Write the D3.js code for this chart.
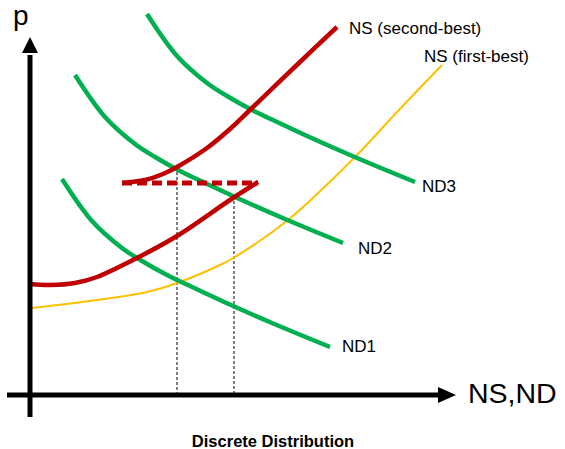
<!DOCTYPE html>
<html>
<head>
<meta charset="utf-8">
<script src="https://cdn.jsdelivr.net/npm/d3@7"></script>
<style>
  html, body { margin: 0; padding: 0; background: #fff; }
  svg { display: block; }
  text { font-family: "Liberation Sans", Arial, sans-serif; }
</style>
</head>
<body>
<div id="chart"></div>
<script>
// ---- data (quantity q, price p in schematic units) ----
const nd1 = [[32,216],[62,174],[92,147],[112,134],[137,120],[162,108],[192,94],[242,72],[300,48]];
const nd2 = [[45,320],[75,278],[105,251],[125,238],[150,224],[175,212],[205,198],[255,176],[313,152]];
const nd3 = [[117,381],[147,339],[177,312],[197,299],[222,285],[247,273],[277,259],[327,237],[385,213]];
const nsSecondLower = [[0,111],[20,110],[45,112],[67,118],[107,137],[147,159],[200,195],[228,213]];
const nsSecondUpper = [[92,212],[115,215],[133,221],[147,228],[177,247],[200,266],[222,287],[270,333],[307,368]];
const nsFirst = [[2,87],[67,95],[117,103],[147,112],[190,130],[205,138],[258,175],[326,239],[367,283],[412,330]];
const jumpSegment = [[92,212],[228,212]];
const dropLines = [[147,228],[204,199]];
const curveLabels = ["ND1","ND2","ND3","NS (second-best)","NS (first-best)"];
const axisLabels = ["p","NS,ND"];
const title = "Discrete Distribution";

const W = 565, H = 449;
const x = d3.scaleLinear().domain([0, 425]).range([30, 455]);
const y = d3.scaleLinear().domain([0, 380]).range([395, 15]);

const svg = d3.select("#chart").append("svg").attr("width", W).attr("height", H);

const line = d3.line().x(d => x(d[0])).y(d => y(d[1])).curve(d3.curveCatmullRom.alpha(0.5));
const straight = d3.line().x(d => x(d[0])).y(d => y(d[1]));

const GREEN = "#00B050", RED = "#C00000", YELLOW = "#FFC000";

// drop lines (dotted)
svg.selectAll(".drop").data(dropLines).enter().append("line")
  .attr("x1", d => x(d[0])).attr("x2", d => x(d[0]))
  .attr("y1", d => y(d[1])).attr("y2", y(0))
  .attr("stroke", "#000").attr("stroke-width", 1).attr("stroke-dasharray", "3,2");

// yellow first-best supply
svg.append("path").attr("d", line(nsFirst)).attr("fill", "none")
  .attr("stroke", YELLOW).attr("stroke-width", 2);

// demand curves
[nd1, nd2, nd3].forEach(c => {
  svg.append("path").attr("d", line(c)).attr("fill", "none")
    .attr("stroke", GREEN).attr("stroke-width", 4.5);
});

// red second-best supply
[nsSecondLower, nsSecondUpper].forEach(c => {
  svg.append("path").attr("d", line(c)).attr("fill", "none")
    .attr("stroke", RED).attr("stroke-width", 4.5);
});
svg.append("path").attr("d", straight(jumpSegment)).attr("fill", "none")
  .attr("stroke", RED).attr("stroke-width", 5).attr("stroke-dasharray", "10,5");

// axes
const axisG = svg.append("g");
axisG.append("line").attr("x1", x(0)).attr("x2", x(0))
  .attr("y1", y(-22)).attr("y2", y(340)).attr("stroke", "#000").attr("stroke-width", 5);
axisG.append("path")
  .attr("d", `M${x(0)-8},${y(342)} L${x(0)+8},${y(342)} L${x(0)},${y(358)} Z`)
  .attr("fill", "#000");
axisG.append("line").attr("x1", x(-23)).attr("x2", x(410))
  .attr("y1", y(0)).attr("y2", y(0)).attr("stroke", "#000").attr("stroke-width", 5);
axisG.append("path")
  .attr("d", `M${x(408)},${y(0)-8} L${x(408)},${y(0)+8} L${x(426)},${y(0)} Z`)
  .attr("fill", "#000");

// axis labels
svg.append("text").attr("x", 13).attr("y", 25).attr("font-size", 28).text(axisLabels[0]);
svg.append("text").attr("x", 468).attr("y", 403).attr("font-size", 28.5).text(axisLabels[1]);

// curve labels
const labelPos = [[342,352],[358,254],[422,192],[349,34],[424,62]];
svg.selectAll(".clab").data(curveLabels).enter().append("text")
  .attr("x", (d,i) => labelPos[i][0]).attr("y", (d,i) => labelPos[i][1])
  .attr("font-size", 17).attr("fill", "#000").text(d => d);

// title
svg.append("text").attr("x", 273).attr("y", 447).attr("text-anchor", "middle")
  .attr("font-size", 16.5).attr("font-weight", "bold").text(title);
</script>
</body>
</html>
